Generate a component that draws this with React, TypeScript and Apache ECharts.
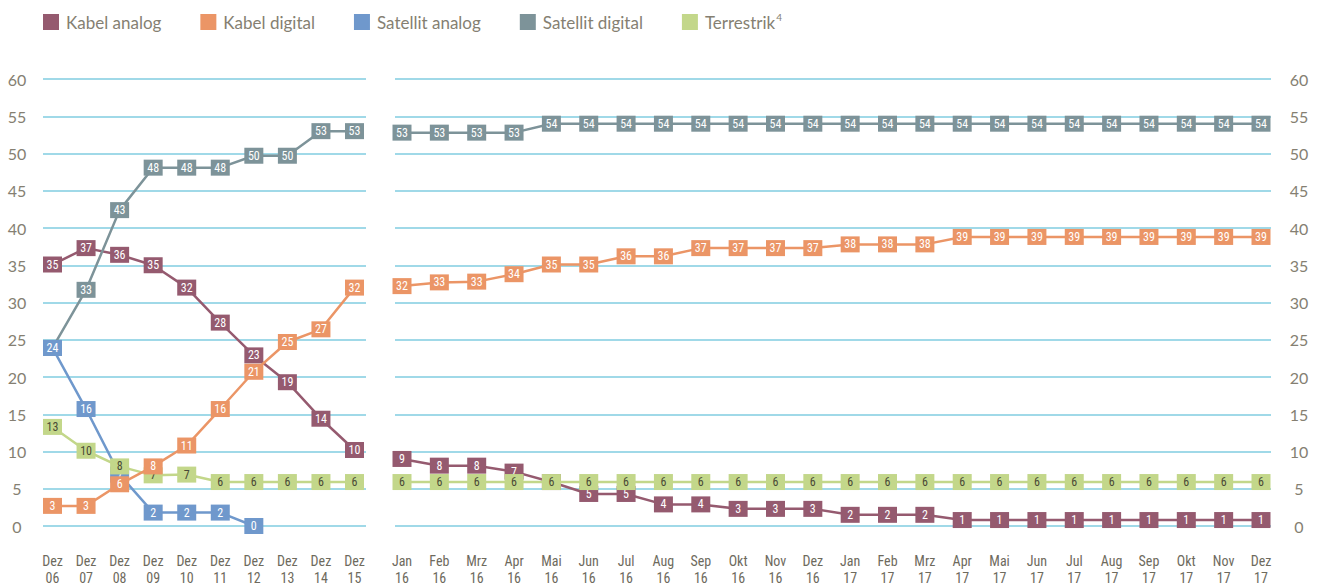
import React, { useEffect, useRef } from "react";
import * as echarts from "echarts";

const seriesNames = ["Kabel analog", "Kabel digital", "Satellit analog", "Satellit digital", "Terrestrik"];
const colors = ["#955a6f", "#eb9566", "#6f98cc", "#7d9399", "#c3d78a"];

const categoriesLeft = ["Dez 06", "Dez 07", "Dez 08", "Dez 09", "Dez 10", "Dez 11", "Dez 12", "Dez 13", "Dez 14", "Dez 15"];
const categoriesRight = [
  "Jan 16", "Feb 16", "Mrz 16", "Apr 16", "Mai 16", "Jun 16", "Jul 16", "Aug 16", "Sep 16", "Okt 16", "Nov 16", "Dez 16",
  "Jan 17", "Feb 17", "Mrz 17", "Apr 17", "Mai 17", "Jun 17", "Jul 17", "Aug 17", "Sep 17", "Okt 17", "Nov 17", "Dez 17",
];

const yTicks = { min: 0, max: 60, interval: 5 };

// Left panel (plotted values and displayed labels)
const kabelAnalogLeft = [35.1, 37.3, 36.4, 35.0, 32.0, 27.3, 22.9, 19.3, 14.4, 10.2];
const kabelAnalogLeftLabels = [35, 37, 36, 35, 32, 28, 23, 19, 14, 10];
const kabelDigitalLeft = [2.7, 2.7, 5.6, 8.0, 10.8, 15.7, 20.7, 24.7, 26.4, 32.0];
const kabelDigitalLeftLabels = [3, 3, 6, 8, 11, 16, 21, 25, 27, 32];
const satAnalogLeft = [23.9, 15.7, 6.9, 1.8, 1.8, 1.8, 0, null, null, null];
const satAnalogLeftLabels = [24, 16, 7, 2, 2, 2, 0, null, null, null];
const satDigitalLeft = [23.9, 31.7, 42.4, 48.1, 48.1, 48.1, 49.7, 49.7, 53.0, 53.0];
const satDigitalLeftLabels = [24, 33, 43, 48, 48, 48, 50, 50, 53, 53];
const terrLeft = [13.3, 10.1, 8.0, 6.8, 6.9, 5.9, 5.9, 5.9, 5.9, 5.9];
const terrLeftLabels = [13, 10, 8, 7, 7, 6, 6, 6, 6, 6];

// Right panel
const kabelAnalogRight = [9.0, 8.1, 8.1, 7.3, 5.9, 4.3, 4.3, 2.9, 2.9, 2.3, 2.3, 2.3, 1.5, 1.5, 1.5, 0.8, 0.8, 0.8, 0.8, 0.8, 0.8, 0.8, 0.8, 0.8];
const kabelAnalogRightLabels = [9, 8, 8, 7, 6, 5, 5, 4, 4, 3, 3, 3, 2, 2, 2, 1, 1, 1, 1, 1, 1, 1, 1, 1];
const kabelDigitalRight = [32.2, 32.7, 32.8, 33.8, 35.1, 35.1, 36.2, 36.2, 37.3, 37.3, 37.3, 37.3, 37.8, 37.8, 37.8, 38.8, 38.8, 38.8, 38.8, 38.8, 38.8, 38.8, 38.8, 38.8];
const kabelDigitalRightLabels = [32, 33, 33, 34, 35, 35, 36, 36, 37, 37, 37, 37, 38, 38, 38, 39, 39, 39, 39, 39, 39, 39, 39, 39];
const satDigitalRight = [52.8, 52.8, 52.8, 52.8, 54.0, 54.0, 54.0, 54.0, 54.0, 54.0, 54.0, 54.0, 54.0, 54.0, 54.0, 54.0, 54.0, 54.0, 54.0, 54.0, 54.0, 54.0, 54.0, 54.0];
const satDigitalRightLabels = [53, 53, 53, 53, 54, 54, 54, 54, 54, 54, 54, 54, 54, 54, 54, 54, 54, 54, 54, 54, 54, 54, 54, 54];
const terrRight = [5.9, 5.9, 5.9, 5.9, 5.9, 5.9, 5.9, 5.9, 5.9, 5.9, 5.9, 5.9, 5.9, 5.9, 5.9, 5.9, 5.9, 5.9, 5.9, 5.9, 5.9, 5.9, 5.9, 5.9];
const terrRightLabels = [6, 6, 6, 6, 6, 6, 6, 6, 6, 6, 6, 6, 6, 6, 6, 6, 6, 6, 6, 6, 6, 6, 6, 6];

const condensed = "'Roboto Condensed', 'Liberation Sans Narrow', 'DejaVu Sans Condensed', 'Arial Narrow', Roboto, sans-serif";
const mainFont = "Lato, 'Open Sans', sans-serif";

export default function App() {
  const ref = useRef<HTMLDivElement>(null);
  useEffect(() => {
    if (!ref.current) return;
    const chart = echarts.init(ref.current, null, { renderer: "svg" });

    const mk = (nameIdx: number, data: any[], labels: any[], xIdx: number, z: number) => ({
      name: seriesNames[nameIdx],
      type: "line",
      xAxisIndex: xIdx,
      yAxisIndex: xIdx,
      data,
      z,
      symbol: "rect",
      symbolSize: [19, 16],
      showAllSymbol: true,
      connectNulls: false,
      lineStyle: { color: colors[nameIdx], width: 2.5 },
      itemStyle: { color: colors[nameIdx] },
      label: {
        show: true,
        position: "inside",
        formatter: (p: any) => String(labels[p.dataIndex]),
        color: nameIdx === 4 ? "#4a4a36" : "#ffffff",
        fontSize: 12,
        fontFamily: condensed,
      },
      emphasis: { disabled: true },
    });

    const grids = [
      { left: 43, top: 79, width: 323, height: 447 },
      { left: 395, top: 79, width: 876, height: 447 },
      { left: 52.5, top: 79, width: 302, height: 447 },
      { left: 402, top: 79, width: 859, height: 447 },
    ];

    const hiddenX = (gi: number) => ({
      type: "category",
      gridIndex: gi,
      show: false,
      data: ["a"],
    });

    const dataX = (gi: number, cats: string[]) => ({
      type: "category",
      gridIndex: gi,
      data: cats,
      boundaryGap: false,
      axisLine: { show: false },
      axisTick: { show: false },
      splitLine: { show: false },
      axisLabel: {
        interval: 0,
        margin: 26,
        color: "#6e6a5d",
        fontSize: 14,
        lineHeight: 17,
        fontFamily: condensed,
        formatter: (v: string) => v.replace(" ", "\n"),
      },
    });

    const bgY = (gi: number, pos: string, margin: number) => ({
      type: "value",
      gridIndex: gi,
      position: pos,
      min: yTicks.min,
      max: yTicks.max,
      interval: yTicks.interval,
      axisLine: { show: false },
      axisTick: { show: false },
      axisLabel: {
        margin,
        align: "center",
        color: "#857f72",
        fontSize: 16,
        fontFamily: mainFont,
      },
      splitLine: { show: true, lineStyle: { color: "#80cde0", width: 1.5 } },
    });

    const dataY = (gi: number) => ({
      type: "value",
      gridIndex: gi,
      min: yTicks.min,
      max: yTicks.max,
      interval: yTicks.interval,
      show: false,
      splitLine: { show: false },
    });

    const option: any = {
      animation: false,
      backgroundColor: "#ffffff",
      legend: {
        left: 43,
        top: 12,
        padding: 0,
        itemWidth: 16,
        itemHeight: 16,
        itemGap: 39,
        icon: "rect",
        data: seriesNames,
        selectedMode: false,
        textStyle: {
          color: "#857f72",
          fontSize: 17,
          fontFamily: mainFont,
          padding: [0, 0, 0, 2],
          rich: {
            n: { color: "#857f72", fontSize: 17, fontFamily: mainFont },
            s: { color: "#857f72", fontSize: 10, fontFamily: mainFont, verticalAlign: "top", padding: [0, 0, 10, 1] },
          },
        },
        formatter: (name: string) => (name === "Terrestrik" ? "{n|Terrestrik}{s|4}" : name),
      },
      grid: grids,
      xAxis: [hiddenX(0), hiddenX(1), dataX(2, categoriesLeft), dataX(3, categoriesRight)],
      yAxis: [bgY(0, "left", 26), bgY(1, "right", 28), dataY(2), dataY(3)],
      series: [
        mk(0, kabelAnalogLeft, kabelAnalogLeftLabels, 2, 2),
        mk(3, satDigitalLeft, satDigitalLeftLabels, 2, 3),
        mk(2, satAnalogLeft, satAnalogLeftLabels, 2, 4),
        mk(4, terrLeft, terrLeftLabels, 2, 5),
        mk(1, kabelDigitalLeft, kabelDigitalLeftLabels, 2, 6),
        mk(0, kabelAnalogRight, kabelAnalogRightLabels, 3, 2),
        mk(3, satDigitalRight, satDigitalRightLabels, 3, 3),
        mk(4, terrRight, terrRightLabels, 3, 5),
        mk(1, kabelDigitalRight, kabelDigitalRightLabels, 3, 6),
      ],
    };
    chart.setOption(option);
    return () => chart.dispose();
  }, []);

  return (
    <div
      ref={ref}
      style={{ position: "absolute", left: 0, top: 0, width: 1319, height: 588 }}
    />
  );
}
